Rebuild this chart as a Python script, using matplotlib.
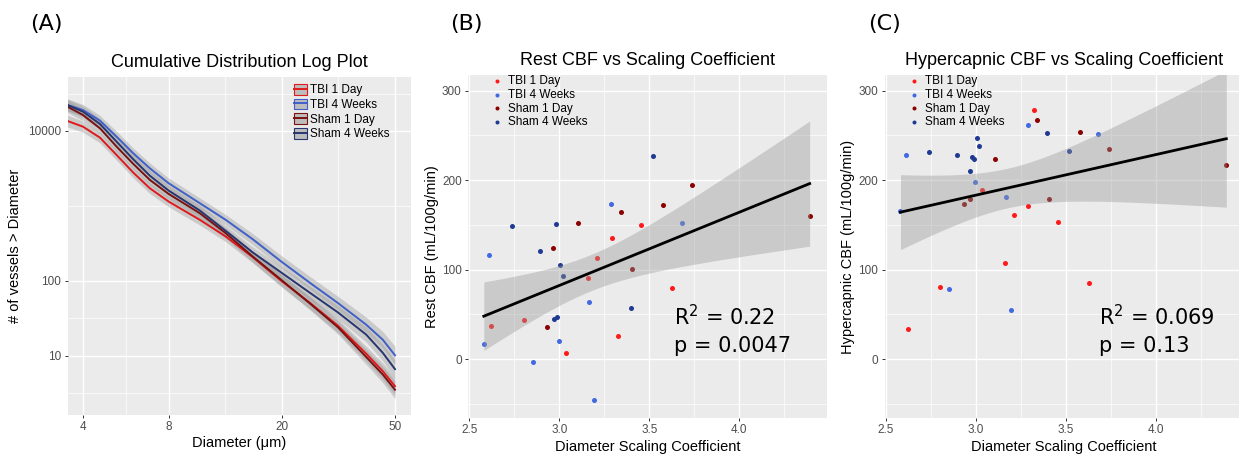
import numpy as np
import matplotlib
matplotlib.use("Agg")
from matplotlib import pyplot as plt
from matplotlib.lines import Line2D
from matplotlib.patches import Patch
from matplotlib.ticker import FixedLocator, NullFormatter

# ---- panel A: cumulative distribution ----
diam = [3.53, 4.0, 4.59, 5.25, 6.01, 6.87, 8.0, 10.3, 12.7, 15.8, 19.9, 25.0, 31.5, 39.6, 45.3, 50.0]
tbi_1d = [13600, 11420, 8150, 4786, 2783, 1720, 1142, 651, 390, 207, 100, 51.4, 25.1, 10.6, 6.2, 3.9]
tbi_4w = [22220, 19050, 13730, 8404, 5037, 3178, 2006, 1085, 651, 359, 181, 95, 50.4, 25.9, 16.3, 10.1]
sham_1d = [21100, 16340, 10850, 6181, 3631, 2222, 1445, 798, 432, 211, 103, 50.4, 23.9, 9.6, 5.6, 3.5]
sham_4w = [22220, 18100, 12400, 7208, 4190, 2537, 1601, 866, 464, 239, 129, 69.9, 37.8, 19.1, 10.9, 6.6]
# half width of the grey confidence band, in decades
band_dex = [0.08, 0.075, 0.07, 0.07, 0.07, 0.07, 0.07, 0.07, 0.07, 0.075, 0.08, 0.085, 0.09, 0.1, 0.11, 0.12]

# ---- panels B / C: scaling coefficient vs CBF ----
tbi1_coef = [3.454, 3.291, 3.211, 3.161, 3.626, 2.802, 2.622, 3.324, 3.035]
tbi1_rest = [150, 135, 112.8, 90.4, 80, 43.9, 37.2, 26.4, 6.7]
tbi1_hyper = [153.3, 171, 161.5, 108, 85.6, 80.4, 33.5, 278, 189]

tbi4_coef = [3.287, 3.681, 2.609, 3.167, 2.581, 2.996, 2.852, 3.194]
tbi4_rest = [173.4, 152.2, 116.5, 64.4, 17.5, 20.5, -3, -45.4]
tbi4_hyper = [261.6, 251.2, 228, 181.6, 165.6, 198, 78, 55.5]

sham1_coef = [3.739, 3.576, 3.341, 3.107, 2.967, 3.407, 4.391, 2.933]
sham1_rest = [194.3, 172, 164.5, 151.8, 124.7, 100.9, 160, 36.5]
sham1_hyper = [234.8, 253.8, 266.8, 223.7, 179, 179, 217.3, 173.4]

sham4_coef = [3.519, 2.739, 2.980, 2.894, 3.006, 3.019, 3.396, 2.987, 2.969]
sham4_rest = [227, 148.9, 151.5, 121.3, 105.3, 93.4, 57.7, 47.3, 45]
sham4_hyper = [233, 231.9, 225.5, 228.1, 247.5, 238.2, 252.7, 223.3, 209.9]

groups = ["TBI 1 Day", "TBI 4 Weeks", "Sham 1 Day", "Sham 4 Weeks"]
stats_rest = ["R$^2$ = 0.22", "p = 0.0047"]
stats_hyper = ["R$^2$ = 0.069", "p = 0.13"]

line_cols = ["#E01A1C", "#3F60C8", "#7A1212", "#283670"]
pt_cols = ["#FF1A1A", "#4169E1", "#8B0000", "#1F3A93"]

plt.rcParams["font.family"] = ["Liberation Sans", "DejaVu Sans"]
PANEL = "#EBEBEB"
TICKC = "#4D4D4D"


def gg_axes(ax):
    ax.set_facecolor(PANEL)
    for s in ax.spines.values():
        s.set_visible(False)
    ax.grid(which="major", color="white", lw=1.0, zorder=0)
    ax.grid(which="minor", color="white", lw=0.5, zorder=0)
    ax.set_axisbelow(True)
    ax.tick_params(which="major", length=2.5, width=0.7, color="#333333",
                   labelsize=8.5, labelcolor=TICKC, pad=2)
    ax.tick_params(which="minor", length=0)


def lm_band(x, y, xs, t=2.037):
    x = np.asarray(x, float)
    y = np.asarray(y, float)
    b, a = np.polyfit(x, y, 1)
    resid = y - (a + b * x)
    s = np.sqrt(np.sum(resid ** 2) / (len(x) - 2))
    sxx = np.sum((x - x.mean()) ** 2)
    se = s * np.sqrt(1 / len(x) + (xs - x.mean()) ** 2 / sxx)
    fit = a + b * xs
    return fit, fit - t * se, fit + t * se


fig = plt.figure(figsize=(12.39, 4.54), dpi=100)

# ---------------- (A) ----------------
axA = fig.add_axes([0.0545, 0.0859, 0.277, 0.7445])
gg_axes(axA)
axA.set_xscale("log")
axA.set_yscale("log")
d = np.array(diam)
bd = np.array(band_dex)
for vals, c in zip([tbi_1d, tbi_4w, sham_1d, sham_4w], line_cols):
    v = np.array(vals, float)
    axA.fill_between(d, v / 10 ** bd, v * 10 ** bd, color="#999999", alpha=0.4, lw=0, zorder=2)
for vals, c in zip([tbi_1d, tbi_4w, sham_1d, sham_4w], line_cols):
    axA.plot(d, vals, color=c, lw=1.4, zorder=3)
axA.set_xlim(3.53, 56.8)
axA.set_ylim(1.61, 52600)
axA.xaxis.set_major_locator(FixedLocator([4, 8, 20, 50]))
axA.xaxis.set_minor_locator(FixedLocator([5.66, 12.65, 31.6]))
axA.yaxis.set_major_locator(FixedLocator([10, 100, 10000]))
axA.yaxis.set_minor_locator(FixedLocator([3.16, 31.6, 1000, 31623]))
axA.set_xticklabels(["4", "8", "20", "50"])
axA.set_yticklabels(["10", "100", "10000"])
axA.xaxis.set_minor_formatter(NullFormatter())
axA.yaxis.set_minor_formatter(NullFormatter())
axA.set_xlabel("Diameter (\u03bcm)", fontsize=10.5)
axA.set_ylabel("# of vessels > Diameter", fontsize=10.5)
axA.xaxis.set_label_coords(0.5, -0.083)
axA.xaxis.label.set_va("center")
axA.yaxis.set_label_coords(-0.153, 0.5)
axA.yaxis.label.set_va("center")
axA.set_title("Cumulative Distribution Log Plot", fontsize=13, pad=7)
hA = [(Patch(facecolor="#BDBDBD", edgecolor=c, lw=0.8), Line2D([], [], color=c, lw=1.4))
      for c in line_cols]
axA.legend(hA, groups, loc="upper left", bbox_to_anchor=(0.659, 0.979), frameon=False,
           fontsize=8.5, handlelength=1.1, handleheight=1.0, handletextpad=0.3,
           labelspacing=0.2, borderpad=0, borderaxespad=0)

# ---------------- (B) and (C) ----------------
coefs = [tbi1_coef, tbi4_coef, sham1_coef, sham4_coef]
panels = [
    ([tbi1_rest, tbi4_rest, sham1_rest, sham4_rest], "Rest CBF (mL/100g/min)",
     "Rest CBF vs Scaling Coefficient", stats_rest, 0.3777, 3.635),
    ([tbi1_hyper, tbi4_hyper, sham1_hyper, sham4_hyper], "Hypercapnic CBF (mL/100g/min)",
     "Hypercapnic CBF vs Scaling Coefficient", stats_hyper, 0.714, 3.685),
]
for ys, ylab, title, stats, left, tx in panels:
    ax = fig.add_axes([left, 0.0793, 0.2897, 0.7555])
    gg_axes(ax)
    for xv, yv, c, g in zip(coefs, ys, pt_cols, groups):
        ax.scatter(xv, yv, s=13, color=c, lw=0, zorder=2, label=g)
    allx = np.concatenate([np.array(v, float) for v in coefs])
    ally = np.concatenate([np.array(v, float) for v in ys])
    xs = np.linspace(allx.min(), allx.max(), 80)
    fit, lo, hi = lm_band(allx, ally, xs)
    ax.fill_between(xs, lo, hi, color="#999999", alpha=0.4, lw=0, zorder=3)
    ax.plot(xs, fit, color="black", lw=2.0, zorder=4)
    ax.set_xlim(2.493, 4.487)
    ax.set_ylim(-65.6, 317.5)
    ax.xaxis.set_major_locator(FixedLocator([2.5, 3.0, 3.5, 4.0]))
    ax.xaxis.set_minor_locator(FixedLocator([2.75, 3.25, 3.75, 4.25]))
    ax.yaxis.set_major_locator(FixedLocator([0, 100, 200, 300]))
    ax.yaxis.set_minor_locator(FixedLocator([-50, 50, 150, 250]))
    ax.set_xticklabels(["2.5", "3.0", "3.5", "4.0"])
    ax.set_yticklabels(["0", "100", "200", "300"])
    ax.set_xlabel("Diameter Scaling Coefficient", fontsize=10.5)
    ax.xaxis.set_label_coords(0.5, -0.0845)
    ax.xaxis.label.set_va("center")
    ax.set_ylabel(ylab, fontsize=10.5)
    ax.yaxis.set_label_coords(-0.101, 0.5)
    ax.yaxis.label.set_va("center")
    ax.set_title(title, fontsize=13, pad=7)
    ax.text(tx, 38.3, stats[0], fontsize=15, family="DejaVu Sans", va="baseline", zorder=5)
    ax.text(tx, 8.5, stats[1], fontsize=15, family="DejaVu Sans", va="baseline", zorder=5)
    ax.legend(loc="upper left", bbox_to_anchor=(0.069, 1.0), frameon=False, fontsize=8.5,
              markerscale=0.8, handlelength=0.8, handletextpad=0.5, labelspacing=0.15,
              borderpad=0, borderaxespad=0, scatterpoints=1)

for lab, xc in [("(A)", 46), ("(B)", 466), ("(C)", 885)]:
    fig.text(xc / 1239, 1 - 24 / 454, lab, fontsize=16, family="DejaVu Sans",
             ha="center", va="center")

fig.savefig("out.png", dpi=100)
